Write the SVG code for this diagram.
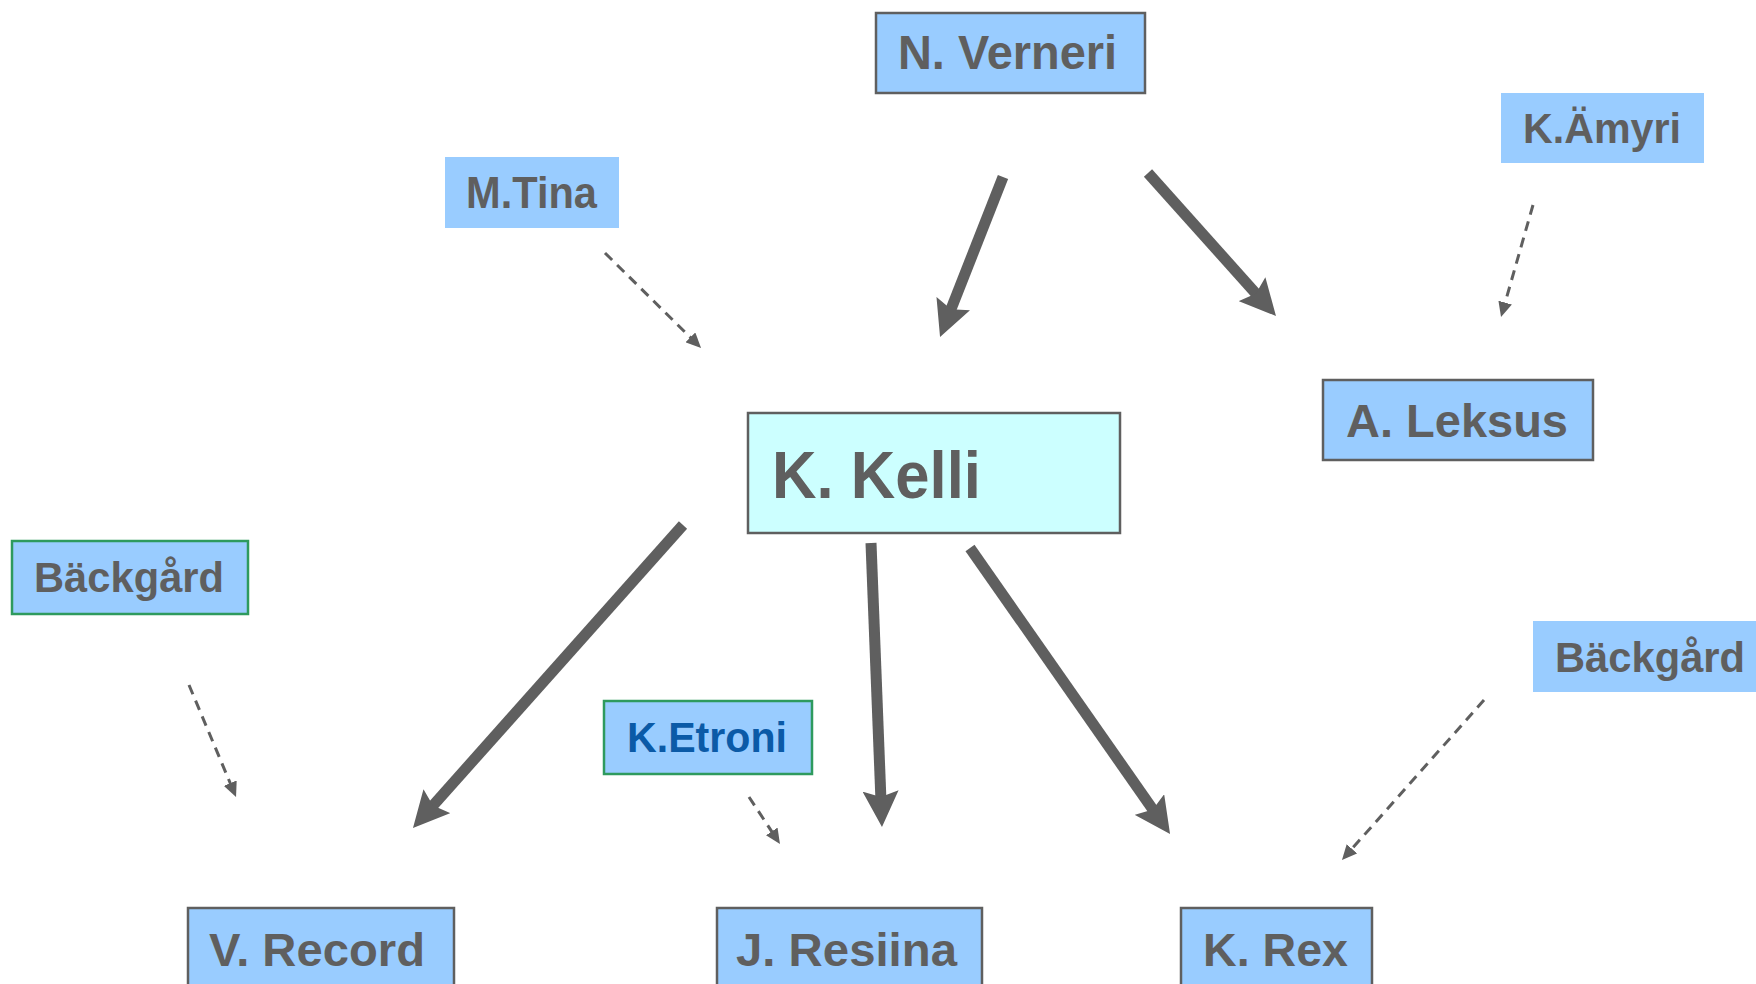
<svg xmlns="http://www.w3.org/2000/svg" width="1756" height="984" viewBox="0 0 1756 984">
<style>
.box{fill:#99ccff;stroke:#5f5f5f;stroke-width:2.5}
.plain{fill:#99ccff;stroke:none}
.green{fill:#99ccff;stroke:#2e9a5e;stroke-width:2.5}
.center{fill:#ccffff;stroke:#5f5f5f;stroke-width:2.5}
.t{font-family:"Liberation Sans",Arial,sans-serif;font-weight:bold;fill:#5f5f5f}
.blue{fill:#0b5aa7}
.thick{stroke:#5f5f5f;stroke-width:11;fill:none;marker-end:url(#big)}
.dash{stroke:#5f5f5f;stroke-width:3;fill:none;stroke-dasharray:10 7;marker-end:url(#small)}
</style>
<defs>
<marker id="big" markerUnits="userSpaceOnUse" viewBox="0 0 36 36" refX="8" refY="18" markerWidth="36" markerHeight="36" orient="auto">
<path d="M0,0 L36,18 L0,36 L6,18 Z" fill="#5f5f5f"/>
</marker>
<marker id="small" markerUnits="userSpaceOnUse" viewBox="0 0 15 14" refX="2" refY="7" markerWidth="15" markerHeight="14" orient="auto">
<path d="M0,0 L15,7 L0,14 Z" fill="#5f5f5f"/>
</marker>
</defs>
<rect width="1756" height="984" fill="#ffffff"/>
<g id="connectors">
<line class="thick" x1="1003" y1="177" x2="950.3" y2="311"/>
<line class="thick" x1="1148" y1="173" x2="1257.3" y2="295.1"/>
<line class="thick" x1="683" y1="525" x2="431.6" y2="807.1"/>
<line class="thick" x1="871" y1="543" x2="880.9" y2="799"/>
<line class="thick" x1="970" y1="548" x2="1154" y2="811.1"/>
<line class="dash" x1="605" y1="253" x2="691.8" y2="338.8"/>
<line class="dash" x1="1533" y1="205" x2="1504.6" y2="304.5"/>
<line class="dash" x1="189" y1="685" x2="231" y2="785"/>
<line class="dash" x1="749" y1="797" x2="772.8" y2="833.1"/>
<line class="dash" x1="1484" y1="700" x2="1350.6" y2="850.3"/>
</g>
<g id="n-verneri"><rect class="box" x="876" y="13" width="269" height="80"/><text class="t" x="898" y="69" font-size="48" textLength="219" lengthAdjust="spacingAndGlyphs">N. Verneri</text></g>
<g id="m-tina"><rect class="plain" x="445" y="157" width="174" height="71"/><text class="t" x="466" y="208" font-size="44" textLength="131" lengthAdjust="spacingAndGlyphs">M.Tina</text></g>
<g id="k-amyri"><rect class="plain" x="1501" y="93" width="203" height="70"/><text class="t" x="1523" y="143" font-size="42" textLength="158" lengthAdjust="spacingAndGlyphs">K.Ämyri</text></g>
<g id="k-kelli"><rect class="center" x="748" y="413" width="372" height="120"/><text class="t" x="772" y="498" font-size="67" textLength="209" lengthAdjust="spacingAndGlyphs">K. Kelli</text></g>
<g id="a-leksus"><rect class="box" x="1323" y="380" width="270" height="80"/><text class="t" x="1346" y="437" font-size="47" textLength="222" lengthAdjust="spacingAndGlyphs">A. Leksus</text></g>
<g id="backgard-left"><rect class="green" x="12" y="541" width="236" height="73"/><text class="t" x="34" y="592" font-size="42" textLength="190" lengthAdjust="spacingAndGlyphs">Bäckgård</text></g>
<g id="k-etroni"><rect class="green" x="604" y="701" width="208" height="73"/><text class="t blue" x="627" y="752" font-size="42" textLength="160" lengthAdjust="spacingAndGlyphs">K.Etroni</text></g>
<g id="backgard-right"><rect class="plain" x="1533" y="621" width="240" height="71"/><text class="t" x="1555" y="672" font-size="42" textLength="190" lengthAdjust="spacingAndGlyphs">Bäckgård</text></g>
<g id="v-record"><rect class="box" x="188" y="908" width="266" height="90"/><text class="t" x="209" y="966" font-size="47" textLength="216" lengthAdjust="spacingAndGlyphs">V. Record</text></g>
<g id="j-resiina"><rect class="box" x="717" y="908" width="265" height="90"/><text class="t" x="736" y="966" font-size="47" textLength="221" lengthAdjust="spacingAndGlyphs">J. Resiina</text></g>
<g id="k-rex"><rect class="box" x="1181" y="908" width="191" height="90"/><text class="t" x="1203" y="966" font-size="47" textLength="145" lengthAdjust="spacingAndGlyphs">K. Rex</text></g>
</svg>
